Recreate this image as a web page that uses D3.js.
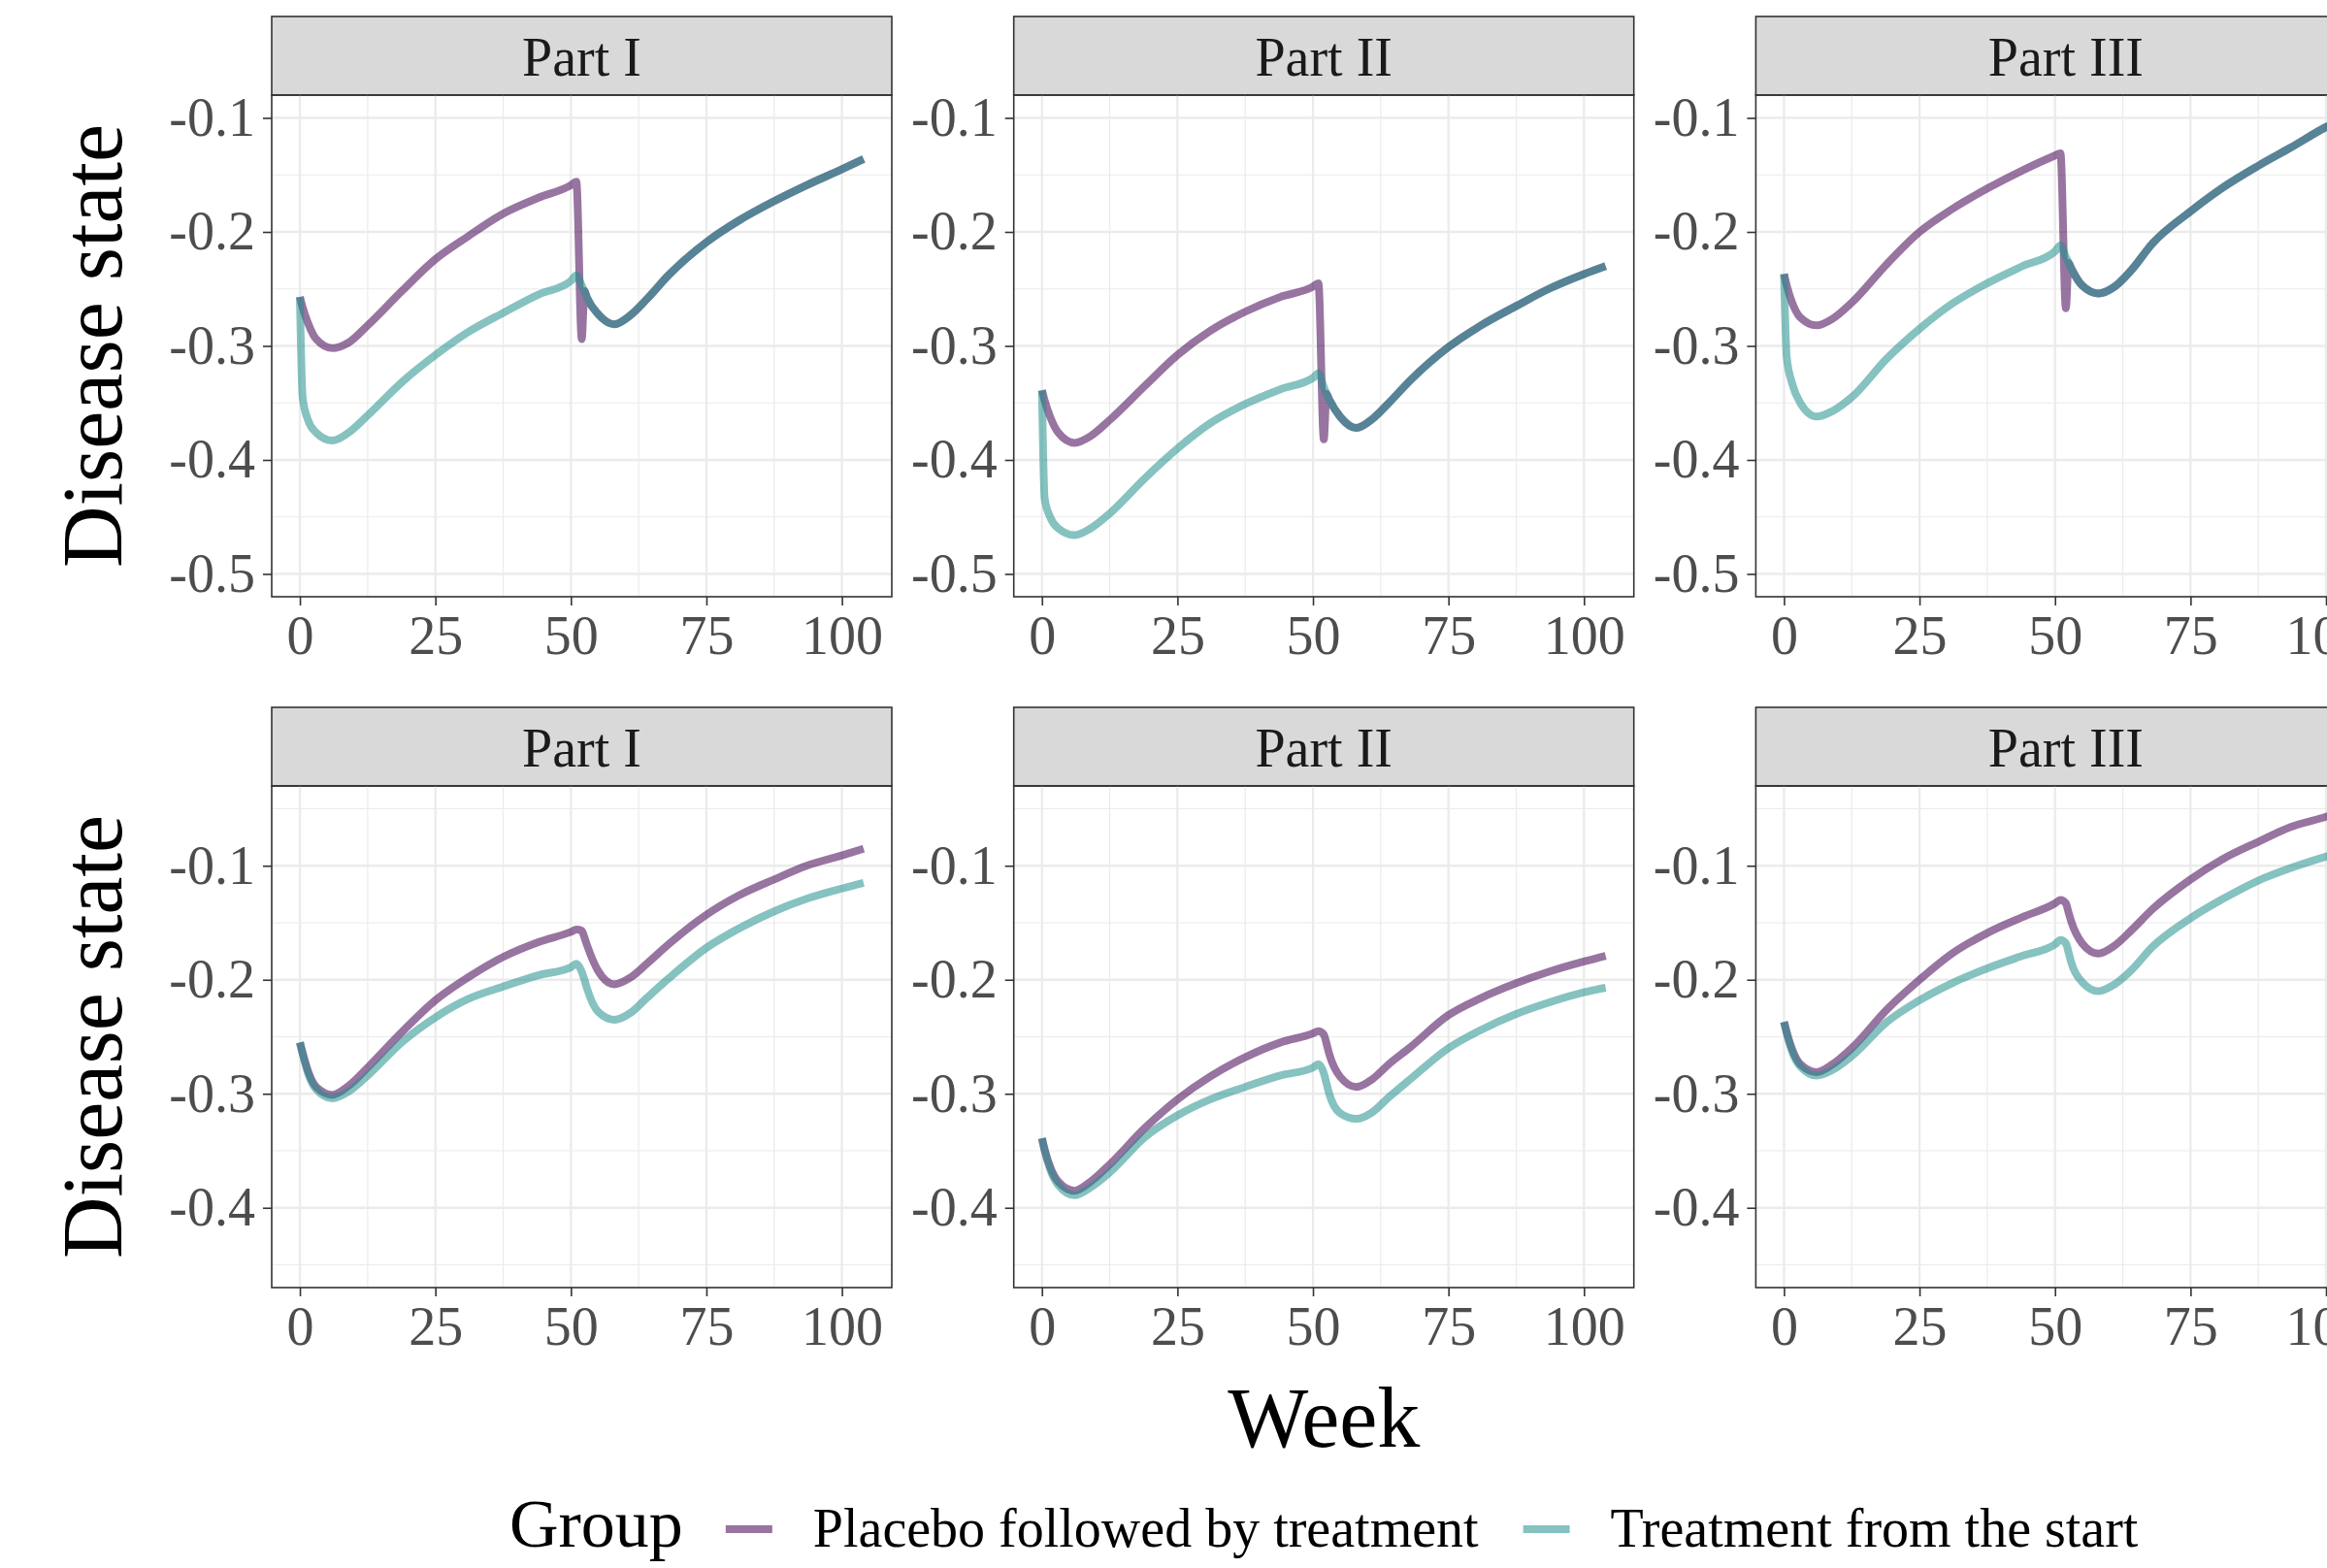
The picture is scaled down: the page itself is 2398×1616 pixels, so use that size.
<!DOCTYPE html>
<html>
<head>
<meta charset="utf-8">
<script src="https://cdn.jsdelivr.net/npm/d3@7"></script>
<style>
  body { margin: 0; background: #fff; }
  svg { display: block; }
</style>
</head>
<body>
<div id="chart"></div>
<script>
// ---- data ----
var parts = ["Part I", "Part II", "Part III"];
var groups = ["Placebo followed by treatment", "Treatment from the start"];
var groupColors = ["#440154", "#21908C"];

var weeks = [0, 0.5, 1.5, 3, 6, 9, 12.5, 19, 25, 31, 37.5, 44, 50, 51, 52, 52.5, 53, 55, 58, 61, 64, 68, 75, 81, 87.5, 93.5, 100, 104];

var xTicks = [0, 25, 50, 75, 100];
var xMinor = [12.5, 37.5, 62.5, 87.5];
var yTicksTop = [-0.1, -0.2, -0.3, -0.4, -0.5];
var yMinorTop = [-0.15, -0.25, -0.35, -0.45];
var yTicksBottom = [-0.1, -0.2, -0.3, -0.4];
var yMinorBottom = [-0.05, -0.15, -0.25, -0.35, -0.45];

// top row
var topPlaceboI   = [-0.257, -0.266, -0.280, -0.294, -0.302, -0.297, -0.282, -0.251, -0.224, -0.204, -0.184, -0.170, -0.159, -0.156, -0.294, -0.252, -0.258, -0.272, -0.281, -0.273, -0.259, -0.238, -0.209, -0.190, -0.173, -0.159, -0.145, -0.136];
var topTreatI     = [-0.257, -0.345, -0.365, -0.376, -0.383, -0.376, -0.361, -0.331, -0.308, -0.288, -0.271, -0.255, -0.243, -0.238, -0.247, -0.252, -0.258, -0.272, -0.281, -0.273, -0.259, -0.238, -0.209, -0.190, -0.173, -0.159, -0.145, -0.136];
var topPlaceboII  = [-0.339, -0.348, -0.362, -0.376, -0.385, -0.379, -0.365, -0.335, -0.308, -0.287, -0.270, -0.257, -0.248, -0.245, -0.382, -0.342, -0.347, -0.362, -0.372, -0.364, -0.350, -0.330, -0.301, -0.282, -0.265, -0.250, -0.237, -0.230];
var topTreatII    = [-0.339, -0.434, -0.450, -0.460, -0.466, -0.460, -0.447, -0.416, -0.390, -0.368, -0.351, -0.338, -0.328, -0.324, -0.336, -0.342, -0.347, -0.362, -0.372, -0.364, -0.350, -0.330, -0.301, -0.282, -0.265, -0.250, -0.237, -0.230];
var topPlaceboIII = [-0.237, -0.247, -0.262, -0.275, -0.282, -0.276, -0.262, -0.228, -0.200, -0.180, -0.162, -0.146, -0.133, -0.131, -0.267, -0.227, -0.232, -0.247, -0.254, -0.248, -0.234, -0.210, -0.182, -0.161, -0.142, -0.126, -0.108, -0.099];
var topTreatIII   = [-0.237, -0.310, -0.333, -0.350, -0.362, -0.357, -0.345, -0.311, -0.285, -0.263, -0.245, -0.230, -0.217, -0.212, -0.222, -0.227, -0.232, -0.247, -0.254, -0.248, -0.234, -0.210, -0.182, -0.161, -0.142, -0.126, -0.108, -0.099];

// bottom row
var botPlaceboI   = [-0.255, -0.264, -0.280, -0.294, -0.301, -0.293, -0.277, -0.245, -0.218, -0.198, -0.180, -0.167, -0.158, -0.156, -0.157, -0.163, -0.170, -0.192, -0.204, -0.198, -0.186, -0.169, -0.143, -0.126, -0.112, -0.100, -0.091, -0.085];
var botTreatI     = [-0.255, -0.265, -0.282, -0.296, -0.304, -0.298, -0.284, -0.254, -0.233, -0.217, -0.206, -0.196, -0.189, -0.186, -0.193, -0.200, -0.208, -0.228, -0.235, -0.229, -0.216, -0.199, -0.172, -0.155, -0.140, -0.129, -0.120, -0.115];
var botPlaceboII  = [-0.339, -0.349, -0.364, -0.377, -0.385, -0.377, -0.362, -0.330, -0.305, -0.285, -0.268, -0.255, -0.247, -0.245, -0.248, -0.256, -0.265, -0.285, -0.294, -0.287, -0.274, -0.259, -0.231, -0.216, -0.203, -0.193, -0.184, -0.179];
var botTreatII    = [-0.339, -0.350, -0.366, -0.380, -0.389, -0.382, -0.369, -0.338, -0.319, -0.305, -0.294, -0.284, -0.277, -0.274, -0.282, -0.291, -0.300, -0.317, -0.322, -0.316, -0.303, -0.287, -0.260, -0.244, -0.230, -0.220, -0.211, -0.207];
var botPlaceboIII = [-0.237, -0.246, -0.261, -0.274, -0.281, -0.274, -0.260, -0.226, -0.200, -0.177, -0.159, -0.145, -0.133, -0.130, -0.133, -0.141, -0.149, -0.168, -0.177, -0.170, -0.157, -0.138, -0.112, -0.094, -0.079, -0.066, -0.057, -0.050];
var botTreatIII   = [-0.237, -0.247, -0.263, -0.276, -0.284, -0.279, -0.267, -0.237, -0.218, -0.203, -0.190, -0.179, -0.169, -0.165, -0.168, -0.176, -0.185, -0.202, -0.210, -0.204, -0.192, -0.171, -0.146, -0.129, -0.113, -0.102, -0.092, -0.087];

// ---- layout ----
var width = 2398;
var height = 1616;
var font = "'Liberation Serif', 'Times New Roman', serif";
var panelLeft = 280;
var panelStep = 764.7;
var panelW = 639;
var panelH = 517;
var stripH = 81;
var rowTop = [98, 810];
var lineW = 8;
var lineOpacity = 0.55;

var svg = d3.select("#chart")
    .append("svg")
    .attr("width", width)
    .attr("height", height)
    .style("background", "#fff");

var rows = [
    { domain: [-0.52, -0.08], ticks: yTicksTop, minor: yMinorTop,
      series: [[topPlaceboI, topTreatI], [topPlaceboII, topTreatII], [topPlaceboIII, topTreatIII]] },
    { domain: [-0.47, -0.03], ticks: yTicksBottom, minor: yMinorBottom,
      series: [[botPlaceboI, botTreatI], [botPlaceboII, botTreatII], [botPlaceboIII, botTreatIII]] }
];

rows.forEach(function(row, r){
    parts.forEach(function(part, c){
        drawPanel(r, c, row, part);
    });
});

drawTitles();
drawLegend();


function drawPanel(r, c, row, part){
    var x0 = panelLeft + c * panelStep;
    var y0 = rowTop[r];

    var x = d3.scaleLinear().domain([-5.2, 109.2]).range([x0, x0 + panelW]);
    var y = d3.scaleLinear().domain(row.domain).range([y0 + panelH, y0]);

    var g = svg.append("g");

    // strip
    g.append("rect")
        .attr("x", x0).attr("y", y0 - stripH)
        .attr("width", panelW).attr("height", stripH)
        .attr("fill", "#D9D9D9")
        .attr("stroke", "#333333")
        .attr("stroke-width", 1.6);
    g.append("text")
        .attr("x", x0 + panelW / 2)
        .attr("y", y0 - stripH / 2)
        .attr("dy", "0.36em")
        .attr("text-anchor", "middle")
        .attr("font-family", font)
        .attr("font-size", 56)
        .attr("fill", "#1A1A1A")
        .text(part);

    // grid
    g.selectAll(".vminor").data(xMinor).enter().append("line")
        .attr("x1", function(d){ return x(d); }).attr("x2", function(d){ return x(d); })
        .attr("y1", y0).attr("y2", y0 + panelH)
        .attr("stroke", "#EBEBEB").attr("stroke-width", 1.2);
    g.selectAll(".hminor").data(row.minor).enter().append("line")
        .attr("y1", function(d){ return y(d); }).attr("y2", function(d){ return y(d); })
        .attr("x1", x0).attr("x2", x0 + panelW)
        .attr("stroke", "#EBEBEB").attr("stroke-width", 1.2);
    g.selectAll(".vmajor").data(xTicks).enter().append("line")
        .attr("x1", function(d){ return x(d); }).attr("x2", function(d){ return x(d); })
        .attr("y1", y0).attr("y2", y0 + panelH)
        .attr("stroke", "#EBEBEB").attr("stroke-width", 2.3);
    g.selectAll(".hmajor").data(row.ticks).enter().append("line")
        .attr("y1", function(d){ return y(d); }).attr("y2", function(d){ return y(d); })
        .attr("x1", x0).attr("x2", x0 + panelW)
        .attr("stroke", "#EBEBEB").attr("stroke-width", 2.3);

    // lines: placebo first, treatment drawn on top
    var line = d3.line()
        .x(function(d){ return x(d[0]); })
        .y(function(d){ return y(d[1]); })
        .curve(d3.curveMonotoneX);

    row.series[c].forEach(function(vals, k){
        var pts = weeks.map(function(w, i){ return [w, vals[i]]; });
        g.append("path")
            .datum(pts)
            .attr("d", line)
            .attr("fill", "none")
            .attr("stroke", groupColors[k])
            .attr("stroke-opacity", lineOpacity)
            .attr("stroke-width", lineW)
            .attr("stroke-linejoin", "round");
    });

    // border
    g.append("rect")
        .attr("x", x0).attr("y", y0)
        .attr("width", panelW).attr("height", panelH)
        .attr("fill", "none")
        .attr("stroke", "#333333")
        .attr("stroke-width", 1.6);

    // axes
    var ax = g.append("g")
        .attr("transform", "translate(0," + (y0 + panelH) + ")")
        .call(d3.axisBottom(x).tickValues(xTicks).tickSize(9).tickPadding(10)
            .tickFormat(function(d){ return String(d); }));
    var ay = g.append("g")
        .attr("transform", "translate(" + x0 + ",0)")
        .call(d3.axisLeft(y).tickValues(row.ticks).tickSize(9).tickPadding(8)
            .tickFormat(function(d){ return d.toFixed(1); }));

    [ax, ay].forEach(function(a){
        a.select(".domain").remove();
        a.selectAll(".tick line").attr("stroke", "#333333").attr("stroke-width", 1.6);
        a.selectAll(".tick text")
            .attr("font-family", font)
            .attr("font-size", 56)
            .attr("fill", "#4D4D4D");
    });
}

function drawTitles(){
    var midX = panelLeft + (2 * panelStep + panelW) / 2;
    svg.append("text")
        .attr("x", midX)
        .attr("y", 1491)
        .attr("text-anchor", "middle")
        .attr("font-family", font)
        .attr("font-size", 88)
        .attr("fill", "#000")
        .text("Week");

    rowTop.forEach(function(t){
        var cy = t + panelH / 2;
        svg.append("text")
            .attr("transform", "translate(125," + cy + ") rotate(-90)")
            .attr("text-anchor", "middle")
            .attr("font-family", font)
            .attr("font-size", 88)
            .attr("fill", "#000")
            .text("Disease state");
    });
}

function drawLegend(){
    var midX = panelLeft + (2 * panelStep + panelW) / 2;
    var baseY = 1594;
    var keyY = 1576;
    var keyLen = 48;

    var lg = svg.append("g");
    var title = lg.append("text")
        .attr("y", baseY)
        .attr("font-family", font)
        .attr("font-size", 70)
        .attr("fill", "#000")
        .text("Group");

    var labels = groups.map(function(name){
        return lg.append("text")
            .attr("y", baseY)
            .attr("font-family", font)
            .attr("font-size", 56)
            .attr("fill", "#000")
            .text(name);
    });

    var titleW = title.node().getComputedTextLength();
    var labelW = labels.map(function(t){ return t.node().getComputedTextLength(); });
    var total = titleW + 44 + keyLen + 42 + labelW[0] + 46 + keyLen + 42 + labelW[1];

    var cx = midX - total / 2;
    title.attr("x", cx);
    cx += titleW + 44;
    groups.forEach(function(name, k){
        lg.append("line")
            .attr("x1", cx).attr("x2", cx + keyLen)
            .attr("y1", keyY).attr("y2", keyY)
            .attr("stroke", groupColors[k])
            .attr("stroke-opacity", lineOpacity)
            .attr("stroke-width", lineW);
        cx += keyLen + 42;
        labels[k].attr("x", cx);
        cx += labelW[k] + 46;
    });
}
</script>
</body>
</html>
